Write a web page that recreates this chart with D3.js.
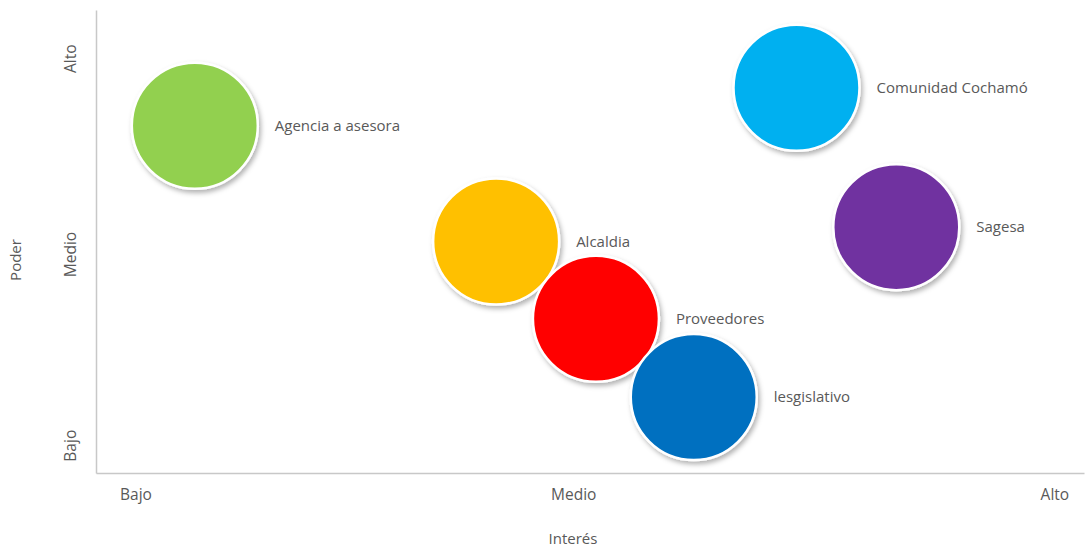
<!DOCTYPE html>
<html>
<head>
<meta charset="utf-8">
<script src="https://cdn.jsdelivr.net/npm/d3@7"></script>
<style>
  body { margin: 0; background: #fff; }
  text { font-family: "Open Sans", sans-serif; fill: #595959; }
</style>
</head>
<body>
<div id="chart"></div>
<script>
// stakeholder map: power vs interest
var names = ["Alcaldia", "Proveedores", "lesgislativo", "Agencia a asesora", "Comunidad Cochamó", "Sagesa"];
var interes = [4.05, 5.06, 6.05, 1.0, 7.09, 8.1];
var poder = [5.0, 3.33, 1.64, 7.5, 8.32, 5.31];
var colors = ["#FFC000", "#FF0000", "#0070C0", "#92D050", "#00B0F0", "#7030A0"];

var levelLabels = ["Bajo", "Medio", "Alto"];
var xTickVals = [0.4, 4.83, 9.7];
var yTickVals = [0.6, 4.73, 8.96];

var width = 1086;
var height = 550;

var svg = d3.select("#chart")
  .append("svg")
  .attr("width", width)
  .attr("height", height);

// drop shadow for bubbles
var defs = svg.append("defs");
var filt = defs.append("filter")
  .attr("id", "shadow")
  .attr("x", "-20%").attr("y", "-20%")
  .attr("width", "150%").attr("height", "150%");
filt.append("feDropShadow")
  .attr("dx", 2).attr("dy", 3)
  .attr("stdDeviation", 2.5)
  .attr("flood-color", "#000")
  .attr("flood-opacity", 0.3);

var xScale = d3.scaleLinear().domain([0, 10]).range([96, 1084]);
var yScale = d3.scaleLinear().domain([0, 10]).range([473, 10]);

// axes, no tick marks, just the words
var xAxis = d3.axisBottom(xScale).tickValues(xTickVals)
  .tickFormat(function(d, i) { return levelLabels[i]; })
  .tickSize(0).tickPadding(14);
var yAxis = d3.axisLeft(yScale).tickValues(yTickVals)
  .tickFormat(function(d, i) { return levelLabels[i]; })
  .tickSize(0).tickPadding(14);

var gx = svg.append("g")
  .attr("transform", "translate(0," + 473 + ")")
  .call(xAxis);
gx.select(".domain").attr("stroke", "#c8c8c8").attr("stroke-width", 1.5);
gx.selectAll("text")
  .style("font-size", "15.5px")
  .attr("fill", "#595959")
  .attr("dy", "0.85em");

var gy = svg.append("g")
  .attr("transform", "translate(" + 96 + ",0)")
  .call(yAxis);
gy.select(".domain").attr("stroke", "#c8c8c8").attr("stroke-width", 1.5);
gy.selectAll("text")
  .style("font-size", "15.5px")
  .attr("fill", "#595959")
  .attr("text-anchor", "middle")
  .attr("x", 0)
  .attr("dy", 0)
  .attr("transform", "translate(-20,0) rotate(-90)");

// axis titles
svg.append("text")
  .attr("x", 573)
  .attr("y", 544)
  .attr("text-anchor", "middle")
  .style("font-size", "15px")
  .text("Interés");

svg.append("text")
  .attr("transform", "translate(21,260) rotate(-90)")
  .attr("text-anchor", "middle")
  .style("font-size", "15px")
  .text("Poder");

// bubbles
var radius = 63;
var data = names.map(function(n, i) {
  return { name: n, x: interes[i], y: poder[i], color: colors[i] };
});

svg.append("g").selectAll("circle")
  .data(data)
  .enter()
  .append("circle")
  .attr("cx", function(d) { return xScale(d.x); })
  .attr("cy", function(d) { return yScale(d.y); })
  .attr("r", radius)
  .attr("fill", function(d) { return d.color; })
  .attr("stroke", "#fff")
  .attr("stroke-width", 2.5)
  .attr("filter", "url(#shadow)");

svg.append("g").selectAll("text")
  .data(data)
  .enter()
  .append("text")
  .attr("x", function(d) { return xScale(d.x) + 80; })
  .attr("y", function(d) { return yScale(d.y); })
  .attr("dy", "0.35em")
  .style("font-size", "15px")
  .text(function(d) { return d.name; });
</script>
</body>
</html>
